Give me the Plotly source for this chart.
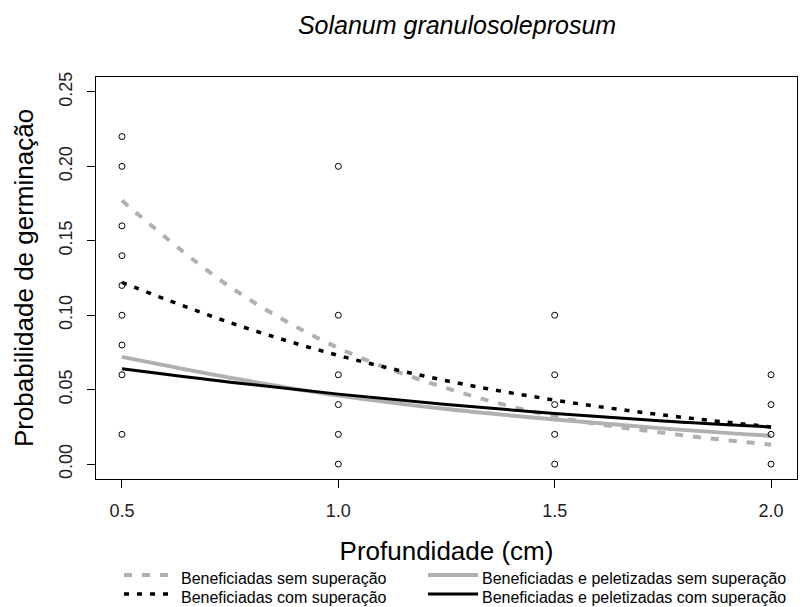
import plotly.graph_objects as go

# ---- observed data points (open circles) ----
pts_x = [0.5]*9 + [1.0]*6 + [1.5]*5 + [2.0]*4
pts_y = [0.22, 0.20, 0.16, 0.14, 0.12, 0.10, 0.08, 0.06, 0.02,
         0.20, 0.10, 0.06, 0.04, 0.02, 0.00,
         0.10, 0.06, 0.04, 0.02, 0.00,
         0.06, 0.04, 0.02, 0.00]

# ---- fitted curves ----
curve_x = [0.5, 0.75, 1.0, 1.25, 1.5, 1.75, 2.0]
benef_sem = [0.177, 0.119, 0.078, 0.051, 0.032, 0.021, 0.013]
benef_com = [0.122, 0.095, 0.073, 0.056, 0.043, 0.033, 0.025]
pelet_sem = [0.072, 0.058, 0.046, 0.037, 0.030, 0.024, 0.019]
pelet_com = [0.064, 0.055, 0.047, 0.040, 0.034, 0.029, 0.025]

series_names = ["Beneficiadas sem superação", "Beneficiadas com superação",
                "Beneficiadas e peletizadas sem superação",
                "Beneficiadas e peletizadas com superação"]

x_ticks = [0.5, 1.0, 1.5, 2.0]
y_ticks = [0.00, 0.05, 0.10, 0.15, 0.20, 0.25]

GRAY = "#b0b0b0"
FONT = "Liberation Sans, Arial, sans-serif"

styles = [
    dict(color=GRAY, width=4, dash="8px,10px"),
    dict(color="black", width=3.5, dash="5px,8px"),
    dict(color=GRAY, width=4, dash="solid"),
    dict(color="black", width=3, dash="solid"),
]
curves = [benef_sem, benef_com, pelet_sem, pelet_com]

fig = go.Figure()
for name, ys, st in zip(series_names, curves, styles):
    fig.add_trace(go.Scatter(x=curve_x, y=ys, mode="lines", name=name,
                             line=dict(color=st["color"], width=st["width"],
                                       dash=st["dash"], shape="spline"),
                             showlegend=False))

fig.add_trace(go.Scatter(x=pts_x, y=pts_y, mode="markers", name="Observado",
                         marker=dict(symbol="circle-open", size=6,
                                     color="black", line=dict(width=1)),
                         showlegend=False))

# ---- layout geometry ----
L, R, T, B = 96, 7, 77, 128
W, H = 804, 607
PW, PH = W - L - R, H - T - B


def px(xp):
    return (xp - L) / PW


def py(yp):
    return (H - B - yp) / PH


# ---- manual legend (two columns, two rows) ----
leg_items = [
    (series_names[0], styles[0], 124, 170, 575, 179, 578),
    (series_names[1], styles[1], 124, 170, 594, 179, 597),
    (series_names[2], styles[2], 428, 478, 575, 480, 578),
    (series_names[3], styles[3], 428, 478, 594, 480, 597),
]
shapes = []
annotations = []
for name, st, x0, x1, ly, tx, ty in leg_items:
    shapes.append(dict(type="line", xref="paper", yref="paper",
                       x0=px(x0), x1=px(x1), y0=py(ly), y1=py(ly),
                       line=dict(color=st["color"], width=st["width"], dash=st["dash"])))
    annotations.append(dict(text=name, xref="paper", yref="paper",
                            x=px(tx), y=py(ty), xanchor="left", yanchor="middle",
                            showarrow=False,
                            font=dict(family=FONT, size=16, color="black")))

fig.update_layout(
    width=W, height=H,
    margin=dict(l=L, r=R, t=T, b=B),
    paper_bgcolor="white", plot_bgcolor="white",
    font=dict(family=FONT, color="black"),
    title=dict(text="<i>Solanum granulosoleprosum</i>",
               x=px(457), xref="paper", xanchor="center",
               y=1 - 25 / H, yref="container", yanchor="middle",
               font=dict(family=FONT, size=25, color="black")),
    shapes=shapes,
    annotations=annotations,
    showlegend=False,
)

fig.update_xaxes(
    range=[0.44, 2.06], tickvals=x_ticks, ticktext=[f"{v:.1f}" for v in x_ticks],
    showgrid=False, zeroline=False, showline=True, linecolor="black", linewidth=1,
    mirror=True, ticks="outside", ticklen=8, tickcolor="black", tickwidth=1,
    tickfont=dict(family=FONT, size=18, color="#222"), ticklabelstandoff=7,
    title=dict(text="Profundidade (cm)", standoff=22,
               font=dict(family=FONT, size=26, color="black")),
    automargin=False,
)
fig.update_yaxes(
    range=[-0.01, 0.26], tickvals=y_ticks, ticktext=[f"{v:.2f}" for v in y_ticks],
    showgrid=False, zeroline=False, showline=True, linecolor="black", linewidth=1,
    mirror=True, ticks="outside", ticklen=8, tickcolor="black", tickwidth=1,
    tickangle=-90,
    tickfont=dict(family=FONT, size=18, color="#222"), ticklabelstandoff=8,
    title=dict(text="Probabilidade de germinação", standoff=14,
               font=dict(family=FONT, size=26, color="black")),
    automargin=False,
)

fig.write_html("out.html")
